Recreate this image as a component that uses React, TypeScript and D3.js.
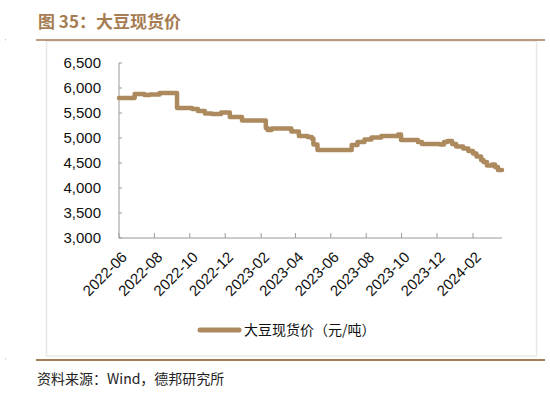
import * as d3 from 'd3';

// step points of the daily spot price (date the level starts, yuan/ton)
const dates = [
  '2022-06-01', '2022-06-28', '2022-07-15', '2022-07-24', '2022-08-10', '2022-09-09',
  '2022-10-05', '2022-10-15', '2022-10-27', '2022-11-08', '2022-11-24', '2022-12-09',
  '2022-12-30', '2023-02-09', '2023-02-12', '2023-02-19', '2023-03-25', '2023-04-07',
  '2023-04-22', '2023-04-29', '2023-05-02', '2023-05-09', '2023-07-07', '2023-07-17',
  '2023-07-29', '2023-08-10', '2023-08-27', '2023-09-25', '2023-09-30', '2023-10-29',
  '2023-11-05', '2023-12-06', '2023-12-13', '2023-12-19', '2023-12-27', '2024-01-03',
  '2024-01-15', '2024-01-24', '2024-02-01', '2024-02-07', '2024-02-15', '2024-02-19',
  '2024-02-25', '2024-03-05', '2024-03-10', '2024-03-15', '2024-03-22',
];
const prices = [
  5800, 5880, 5860, 5870, 5900, 5600,
  5580, 5540, 5490, 5480, 5510, 5420,
  5350, 5200, 5160, 5190, 5130, 5040,
  5020, 4990, 4870, 4760, 4860, 4920,
  4970, 5010, 5040, 5070, 4960, 4920,
  4880, 4870, 4920, 4940, 4880, 4830,
  4790, 4740, 4690, 4630, 4560, 4520,
  4450, 4470, 4420, 4360, 4360,
];
const xTicks = [
  '2022-06', '2022-08', '2022-10', '2022-12', '2023-02', '2023-04',
  '2023-06', '2023-08', '2023-10', '2023-12', '2024-02',
];
const yTicks = [3000, 3500, 4000, 4500, 5000, 5500, 6000, 6500];

const title = '图 35：大豆现货价';
const seriesName = '大豆现货价（元/吨）';
const source = '资料来源：Wind，德邦研究所';

const W = 550, H = 401;
const brown = '#A67C52';
const lineColor = '#AD8A5E';
const latin = '"Liberation Sans", Arial, sans-serif';
const cjk = '"Noto Sans CJK SC", "Liberation Sans", sans-serif';

export default function App() {
  const parse = d3.timeParse('%Y-%m-%d');
  const data = dates.map((d, i) => ({ date: parse(d) as Date, value: prices[i] }));

  const x = d3.scaleTime()
    .domain([parse('2022-06-01') as Date, parse('2024-03-22') as Date])
    .range([119, 502]);
  const y = d3.scaleLinear().domain([3000, 6500]).range([238, 63]);

  const line = d3.line<{ date: Date; value: number }>()
    .x(d => x(d.date))
    .y(d => y(d.value))
    .curve(d3.curveStepAfter);

  const fmt = d3.format(',');
  const tickDates = xTicks.map(t => parse(t + '-01') as Date);

  return (
    <svg width={W} height={H} style={{ position: 'absolute', left: 0, top: 0, background: '#fff' }}>
      <text x={38} y={28} fill={brown} fontFamily={cjk} fontWeight="bold" fontSize={17}>{title}</text>
      <rect x={5} y={39} width={1} height={1.5} fill="#ccc" />
      <rect x={46.5} y={41} width={490} height={315} fill="none" stroke="#e8e8e8" strokeWidth={1.5} />
      <line x1={36} x2={545} y1={40} y2={40} stroke={brown} strokeWidth={1.5} />

      {/* y axis */}
      <line x1={119} x2={119} y1={y(6500)} y2={y(3000)} stroke="#999" strokeWidth={1} />
      {yTicks.map(t => (
        <g key={t}>
          <line x1={119} x2={122} y1={y(t)} y2={y(t)} stroke="#999" />
          <text x={101} y={y(t)} dy="0.36em" textAnchor="end" fontFamily={latin} fontSize={15} fill="#111">{fmt(t)}</text>
        </g>
      ))}

      {/* x axis */}
      <line x1={119} x2={502} y1={238} y2={238} stroke="#999" strokeWidth={1} />
      {tickDates.map((d, i) => (
        <g key={xTicks[i]}>
          <line x1={x(d)} x2={x(d)} y1={238} y2={233} stroke="#999" />
          <text transform={`translate(${x(d) + 9},${258}) rotate(-45)`} textAnchor="end"
            fontFamily={latin} fontSize={15} fill="#111">{xTicks[i]}</text>
        </g>
      ))}

      <path d={line(data) ?? ''} fill="none" stroke={lineColor} strokeWidth={4.5} strokeLinejoin="round" strokeLinecap="round" />

      {/* legend */}
      <line x1={200} x2={239} y1={330} y2={330} stroke={lineColor} strokeWidth={5} strokeLinecap="round" />
      <text x={244} y={330} dy="0.36em" fontFamily={cjk} fontSize={14} fill="#111">{seriesName}</text>

      <rect x={5} y={358} width={1} height={1.5} fill="#ccc" />
      <line x1={36} x2={545} y1={360} y2={360} stroke={brown} strokeWidth={2} />
      <text x={37} y={384} fontFamily={cjk} fontSize={14} fill="#222">{source}</text>
    </svg>
  );
}
